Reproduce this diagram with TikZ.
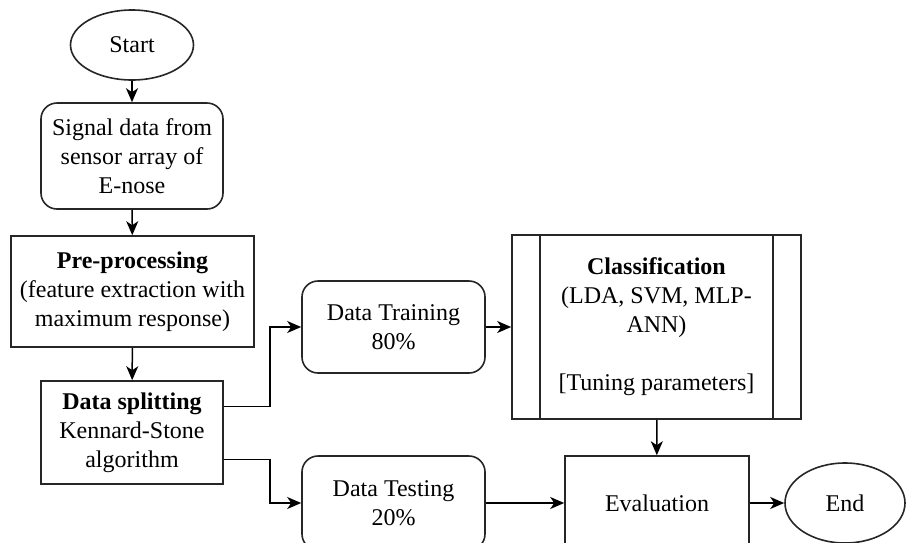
\documentclass[tikz,border=0pt]{standalone}
\usepackage{fontspec}
\setmainfont{Liberation Serif}
\usetikzlibrary{shapes.geometric,arrows.meta,calc}
\begin{document}
\begin{tikzpicture}[x=1pt,y=-1pt,
  every node/.style={font=\fontsize{24}{29}\selectfont, align=center, inner sep=0pt},
  base/.style={draw=black!85, line width=1.6pt},
  term/.style={base, ellipse},
  rbox/.style={base, rectangle, rounded corners=16pt},
  pbox/.style={base, rectangle},
  conn/.style={draw=black, line width=1.5pt, -{Stealth[length=14pt,width=12pt,inset=4pt]}}
]
\useasboundingbox (0,0) rectangle (906,542);
\clip (0,0) rectangle (906,542);

\node[term, minimum width=123pt, minimum height=70pt] (start) at (132,45) {Start};
\node[rbox, minimum width=182pt, minimum height=106pt] (signal) at (132,156) {Signal data from\\sensor array of\\E-nose};
\node[pbox, minimum width=243pt, minimum height=111pt] (pre) at (132.5,291.5) {\textbf{Pre-processing}\\(feature extraction with\\maximum response)};
\node[pbox, minimum width=182pt, minimum height=103pt] (split) at (132,432.5) {\textbf{Data splitting}\\Kennard-Stone\\algorithm};
\node[rbox, minimum width=183pt, minimum height=92pt] (train) at (393.5,327) {Data Training\\80\%};
\node[rbox, minimum width=183pt, minimum height=94pt] (test) at (393.5,503) {Data Testing\\20\%};
\node[pbox, minimum width=289pt, minimum height=184pt] (cls) at (656.5,327) {\textbf{Classification}\\(LDA, SVM, MLP-\\ANN)\\[29pt][Tuning parameters]};
\draw[base] ([xshift=29pt]cls.north west) -- ([xshift=29pt]cls.south west);
\draw[base] ([xshift=-29pt]cls.north east) -- ([xshift=-29pt]cls.south east);
\node[pbox, minimum width=184pt, minimum height=94pt] (eval) at (657,503) {Evaluation};
\node[term, minimum width=120pt, minimum height=80pt] (end) at (845,503) {End};

\draw[conn] (start) -- (signal);
\draw[conn] (signal) -- (pre);
\draw[conn] (pre) -- (split);
\draw[conn] ([yshift=26pt]split.east) -- ++(46,0) |- (train.west);
\draw[conn] ([yshift=-27pt]split.east) -- ++(46,0) |- (test.west);
\draw[conn] (train) -- (cls);
\draw[conn] (test) -- (eval);
\draw[conn] (cls) -- (eval);
\draw[conn] (eval) -- (end);
\end{tikzpicture}
\end{document}
